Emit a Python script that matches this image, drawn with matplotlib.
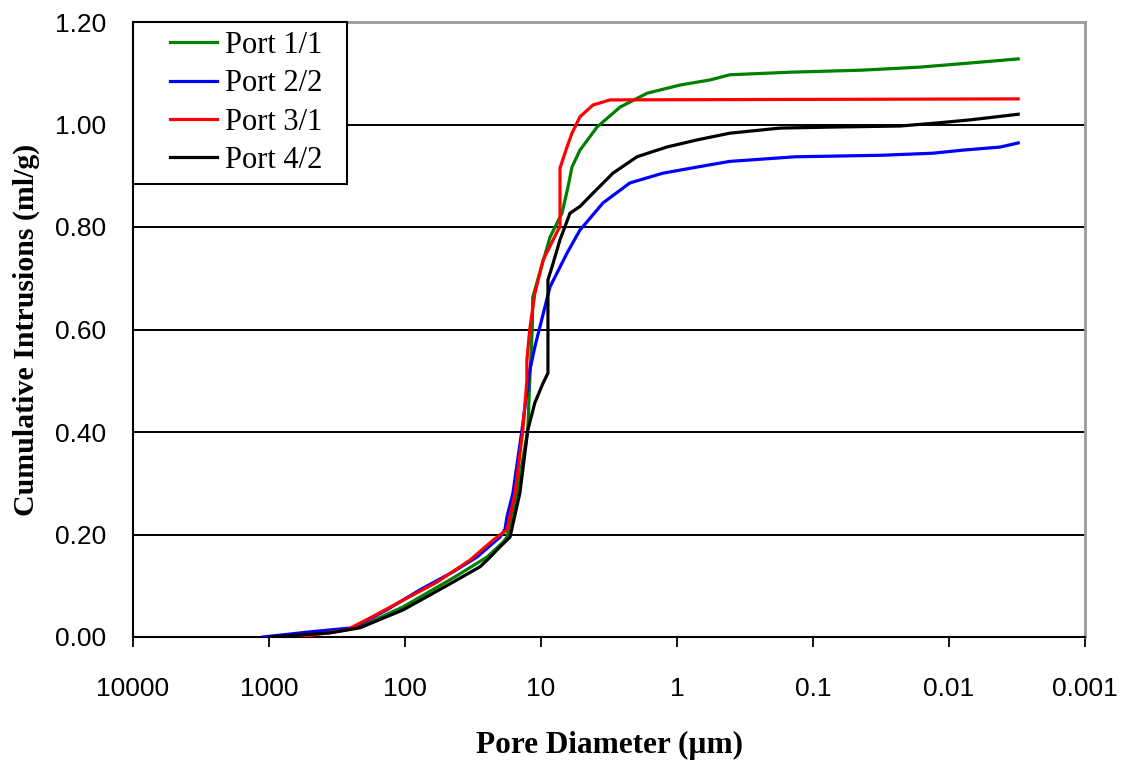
import matplotlib
matplotlib.use("Agg")
import matplotlib.pyplot as plt
from matplotlib.ticker import FixedLocator, FixedFormatter, NullLocator
from matplotlib.legend_handler import HandlerLine2D

# ---- data (pore diameter in µm, cumulative intrusion in ml/g) ----
port11_d = [984, 422, 214, 103, 44.4, 24.9, 19.0, 17.8, 15.5, 12.5, 12.1, 11.6, 11.5,
            8.59, 7.01, 6.33, 5.92, 5.17, 3.87, 2.62, 1.66, 0.95, 0.57, 0.41, 0.148,
            0.044, 0.0163, 0.0070, 0.0031]
port11_v = [0.0, 0.008, 0.02, 0.059, 0.115, 0.156, 0.185, 0.195, 0.26, 0.404, 0.50, 0.60, 0.663,
            0.78, 0.827, 0.878, 0.917, 0.95, 0.995, 1.034, 1.061, 1.077, 1.087, 1.097, 1.102,
            1.106, 1.112, 1.12, 1.128]

port22_d = [1107, 500, 241, 136, 77.6, 44.4, 29.6, 20.0, 18.4, 17.8, 16.1, 13.8, 12.1,
            11.1, 8.59, 6.44, 5.17, 3.50, 2.22, 1.27, 0.71, 0.41, 0.135, 0.031, 0.0131,
            0.0079, 0.0042, 0.0031]
port22_v = [0.0, 0.01, 0.018, 0.053, 0.092, 0.127, 0.156, 0.195, 0.21, 0.234, 0.28, 0.404, 0.52,
            0.566, 0.683, 0.749, 0.794, 0.847, 0.886, 0.905, 0.917, 0.928, 0.937, 0.94, 0.944,
            0.95, 0.956, 0.964]

port31_d = [590, 267, 181, 103, 58.2, 33.3, 22.5, 17.8, 15.5, 13.6, 12.7, 12.7, 12.1,
            11.1, 9.67, 7.50, 7.25, 7.25, 6.44, 5.92, 5.17, 4.15, 3.11, 0.0031]
port31_v = [0.0, 0.014, 0.037, 0.072, 0.107, 0.15, 0.189, 0.209, 0.281, 0.404, 0.50, 0.54, 0.60,
            0.67, 0.735, 0.794, 0.80, 0.915, 0.956, 0.983, 1.015, 1.038, 1.048, 1.05]

port42_d = [984, 356, 214, 103, 44.4, 28.1, 24.9, 20.0, 16.9, 14.3, 12.5, 11.1, 9.67,
            8.89, 8.89, 8.30, 7.25, 6.12, 5.17, 4.15, 2.96, 1.97, 1.19, 0.71, 0.41,
            0.175, 0.072, 0.023, 0.0122, 0.0070, 0.0031]
port42_v = [0.0, 0.008, 0.018, 0.053, 0.107, 0.137, 0.15, 0.176, 0.195, 0.281, 0.404, 0.457, 0.495,
            0.515, 0.697, 0.722, 0.775, 0.827, 0.84, 0.866, 0.905, 0.937, 0.956, 0.97, 0.983,
            0.993, 0.995, 0.997, 1.003, 1.009, 1.02]

series_names = ["Port 1/1", "Port 2/2", "Port 3/1", "Port 4/2"]
series_colors = ["#008000", "#0000FF", "#FF0000", "#000000"]

x_ticks = [10000, 1000, 100, 10, 1, 0.1, 0.01, 0.001]
x_tick_labels = ["10000", "1000", "100", "10", "1", "0.1", "0.01", "0.001"]
y_ticks = [0.0, 0.2, 0.4, 0.6, 0.8, 1.0, 1.2]
y_tick_labels = ["0.00", "0.20", "0.40", "0.60", "0.80", "1.00", "1.20"]


class OffsetLineHandler(HandlerLine2D):
    """Line handle drawn in the right part of the handle box (Excel-like indent)."""
    def __init__(self, frac=0.37, **kw):
        super().__init__(**kw)
        self.frac = frac

    def create_artists(self, legend, orig_handle, xdescent, ydescent, width, height,
                       fontsize, trans):
        pad = width * self.frac
        return super().create_artists(legend, orig_handle, xdescent - pad, ydescent,
                                      width - pad, height, fontsize, trans)


# ---- figure ----
W, H = 1130, 761
fig = plt.figure(figsize=(W / 100, H / 100), dpi=100)
ax_left, ax_right, ax_top, ax_bottom = 133, 1085, 22, 637
ax = fig.add_axes([ax_left / W, (H - ax_bottom) / H, (ax_right - ax_left) / W,
                   (ax_bottom - ax_top) / H])

data = [(port11_d, port11_v), (port22_d, port22_v), (port31_d, port31_v), (port42_d, port42_v)]
for (d, v), name, c in zip(data, series_names, series_colors):
    ax.plot(d, v, color=c, lw=2.3, label=name, solid_joinstyle="miter", zorder=3)

ax.set_xscale("log")
ax.set_xlim(10000, 0.001)
ax.set_ylim(0, 1.2)

ax.xaxis.set_major_locator(FixedLocator(x_ticks))
ax.xaxis.set_major_formatter(FixedFormatter(x_tick_labels))
ax.xaxis.set_minor_locator(NullLocator())
ax.yaxis.set_major_locator(FixedLocator(y_ticks))
ax.yaxis.set_major_formatter(FixedFormatter(y_tick_labels))

for lab in ax.get_xticklabels() + ax.get_yticklabels():
    lab.set_fontfamily("Liberation Sans")
    lab.set_fontsize(19)

ax.tick_params(axis="x", direction="out", length=7, width=1.3, pad=22, colors="black")
ax.tick_params(axis="y", length=0, pad=19)

for y in y_ticks[1:-1]:
    ax.axhline(y, color="black", lw=1.4, zorder=1)

ax.spines["left"].set_color("black")
ax.spines["left"].set_linewidth(1.5)
ax.spines["bottom"].set_color("black")
ax.spines["bottom"].set_linewidth(1.5)
for s in ("top", "right"):
    ax.spines[s].set_color("#9a9a9a")
    ax.spines[s].set_linewidth(2)

ax.set_xlabel("Pore Diameter (\u00b5m)",
              fontdict=dict(family="Liberation Serif", weight="bold", size=22.5), labelpad=21)
ax.set_ylabel("Cumulative Intrusions (ml/g)",
              fontdict=dict(family="Liberation Serif", weight="bold", size=21.5), labelpad=11)

leg_w = (347 - ax_left) / (ax_right - ax_left)
leg = ax.legend(loc="upper left", bbox_to_anchor=(0, 0, leg_w, 1.0), borderaxespad=0,
                mode="expand",
                prop=dict(family="Liberation Serif", size=22), frameon=True,
                fancybox=False, edgecolor="black", framealpha=1,
                handlelength=2.45, handletextpad=0.25, labelspacing=0.3,
                borderpad=0.3,
                handler_map={plt.Line2D: OffsetLineHandler(frac=0.37)})
leg.get_frame().set_linewidth(1.5)

fig.savefig("out.png", dpi=100)
